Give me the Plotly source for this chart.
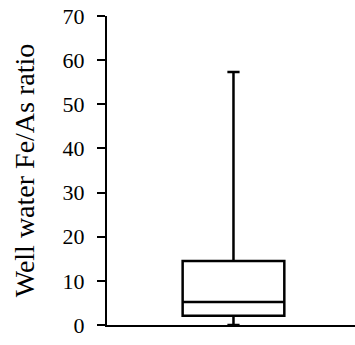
import plotly.graph_objects as go

category = ["Fe/As"]
q1 = [2.1]
median = [5.2]
q3 = [14.5]
lower_whisker = [0.0]
upper_whisker = [57.3]
y_ticks = [0, 10, 20, 30, 40, 50, 60, 70]

fig = go.Figure()
fig.add_trace(go.Box(
    x=[0],
    q1=q1, median=median, q3=q3,
    lowerfence=lower_whisker, upperfence=upper_whisker,
    name=category[0],
    width=0.41,
    whiskerwidth=0.12,
    fillcolor="white",
    line=dict(color="black", width=2.5),
    boxpoints=False,
    hoverinfo="skip",
))

fig.update_layout(
    width=355, height=345,
    margin=dict(l=107, r=0, t=16, b=20),
    paper_bgcolor="white", plot_bgcolor="white",
    showlegend=False,
    font=dict(family="Liberation Serif, Times New Roman, serif", color="black"),
    xaxis=dict(range=[-0.51, 0.49], showticklabels=False, ticks="",
               showgrid=False, zeroline=False, showline=True,
               linecolor="black", linewidth=2),
    yaxis=dict(range=[0, 70], tickvals=y_ticks, ticks="outside", ticklen=8,
               tickwidth=2, tickcolor="black", showgrid=False, zeroline=False,
               showline=True, linecolor="black", linewidth=2,
               tickfont=dict(size=22), ticklabelstandoff=8,
               title=dict(text="Well water Fe/As ratio", font=dict(size=28), standoff=20)),
)

fig.write_html("out.html")
